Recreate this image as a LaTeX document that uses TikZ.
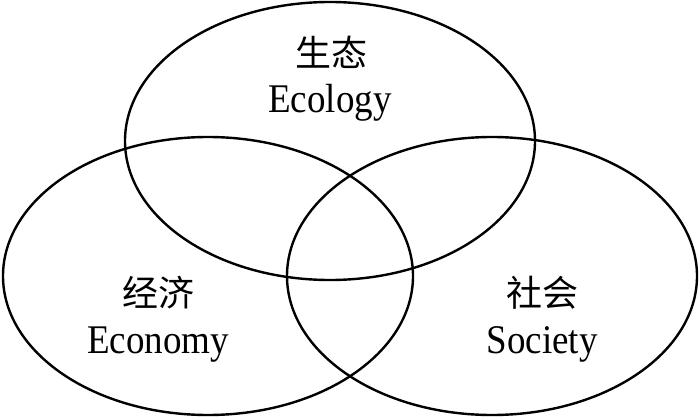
\documentclass[tikz,border=0pt]{standalone}
\usepackage{fontspec}
\setmainfont{Liberation Serif}
\newfontfamily\cjk{Noto Sans CJK SC}
\begin{document}
\begin{tikzpicture}[x=1pt,y=-1pt,
  ring/.style={draw=black,line width=2.4pt},
  zhlabel/.style={anchor=base,inner sep=0pt,font=\cjk\fontsize{36}{38}\selectfont},
  enlabel/.style={anchor=base,inner sep=0pt,yscale=1.1,font=\fontsize{37}{40}\selectfont}]
\useasboundingbox (0,0) rectangle (700,417);
\coordinate (ce) at (330,141);
\coordinate (cl) at (208,276);
\coordinate (cr) at (492,276);
\draw[ring] (ce) ellipse [x radius=205, y radius=139];
\draw[ring] (cl) ellipse [x radius=205, y radius=139];
\draw[ring] (cr) ellipse [x radius=205, y radius=139];
\node[zhlabel] (zhe) at (331,67) {生态};
\node[enlabel] (ene) at (330,113) {Ecology};
\node[zhlabel] (zhl) at (158,306) {经济};
\node[enlabel] (enl) at (158,353) {Economy};
\node[zhlabel] (zhr) at (542,306) {社会};
\node[enlabel] (enr) at (542,353) {Society};
\end{tikzpicture}
\end{document}
